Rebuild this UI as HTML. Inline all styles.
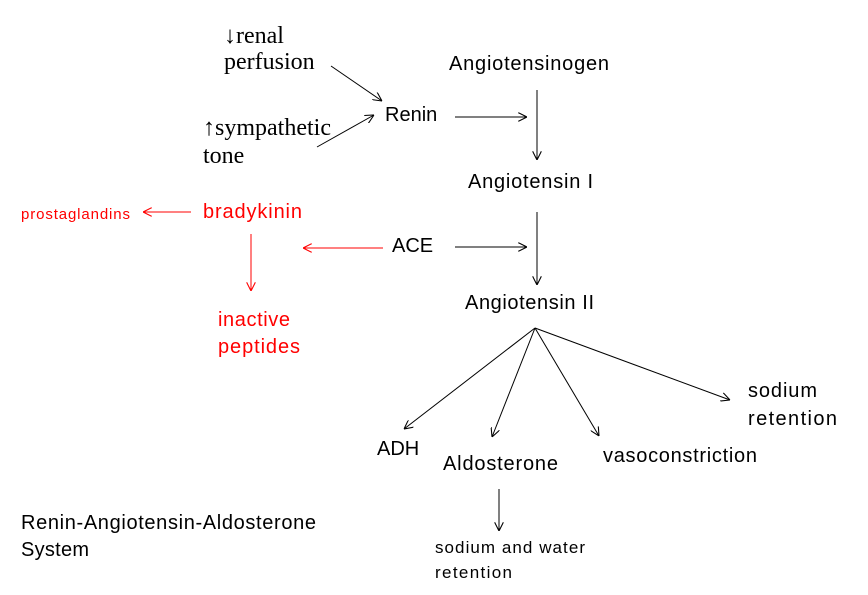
<!DOCTYPE html>
<html><head><meta charset="utf-8"><style>
html,body{margin:0;padding:0;background:#fff;width:868px;height:595px;overflow:hidden}
svg{display:block}
.s{font-family:"Liberation Sans",sans-serif;font-size:20px;fill:#000}
.r{font-family:"Liberation Serif",serif;font-size:24px;fill:#000}
.red{fill:#f00}
</style></head><body>
<svg width="868" height="595" viewBox="0 0 868 595" xmlns="http://www.w3.org/2000/svg">
<defs>
<marker id="a" viewBox="0 0 10 10" refX="10" refY="5" markerWidth="9" markerHeight="9" orient="auto" markerUnits="userSpaceOnUse"><path d="M0,0 L10,5 L0,10" fill="none" stroke="#000" stroke-width="1.2"/></marker>
<marker id="ar" viewBox="0 0 10 10" refX="10" refY="5" markerWidth="9" markerHeight="9" orient="auto" markerUnits="userSpaceOnUse"><path d="M0,0 L10,5 L0,10" fill="none" stroke="#f00" stroke-width="1.2"/></marker>
</defs>
<g stroke="#000" stroke-width="1" fill="none" marker-end="url(#a)">
<line x1="331" y1="66" x2="382" y2="101"/>
<line x1="317" y1="147" x2="374" y2="115"/>
<line x1="455" y1="117" x2="527" y2="117"/>
<line x1="537" y1="90" x2="537" y2="160"/>
<line x1="537" y1="212" x2="537" y2="285"/>
<line x1="455" y1="247" x2="527" y2="247"/>
<line x1="535" y1="328" x2="404" y2="429"/>
<line x1="535" y1="328" x2="492" y2="437"/>
<line x1="535" y1="328" x2="599" y2="436"/>
<line x1="535" y1="328" x2="730" y2="400"/>
<line x1="499" y1="489" x2="499" y2="531"/>
</g>
<g stroke="#f00" stroke-width="1" fill="none" marker-end="url(#ar)">
<line x1="383" y1="248" x2="303" y2="248"/>
<line x1="191" y1="212" x2="143" y2="212"/>
<line x1="251" y1="234" x2="251" y2="291"/>
</g>
<text class="r" x="224" y="43">↓renal</text>
<text class="r" x="224" y="69">perfusion</text>
<text class="r" x="203" y="135">↑sympathetic</text>
<text class="r" x="203" y="163">tone</text>
<text class="s" x="385" y="121">Renin</text>
<text class="s" x="449" y="70" textLength="160">Angiotensinogen</text>
<text class="s" x="468" y="188" textLength="125">Angiotensin I</text>
<text class="s" x="465" y="309" textLength="129">Angiotensin II</text>
<text class="s" x="392" y="252">ACE</text>
<text class="s red" x="203" y="218" textLength="99">bradykinin</text>
<text class="s red" x="21" y="219" style="font-size:15px" textLength="109">prostaglandins</text>
<text class="s red" x="218" y="326" textLength="72">inactive</text>
<text class="s red" x="218" y="353" textLength="82">peptides</text>
<text class="s" x="377" y="455">ADH</text>
<text class="s" x="443" y="470" textLength="115">Aldosterone</text>
<text class="s" x="603" y="462" textLength="154">vasoconstriction</text>
<text class="s" x="748" y="397" textLength="69">sodium</text>
<text class="s" x="748" y="425" textLength="89">retention</text>
<text class="s" x="435" y="553" style="font-size:17px" textLength="150">sodium and water</text>
<text class="s" x="435" y="578" style="font-size:17px" textLength="77">retention</text>
<text class="s" x="21" y="529" textLength="295">Renin-Angiotensin-Aldosterone</text>
<text class="s" x="21" y="556" textLength="68">System</text>
</svg>
</body></html>
